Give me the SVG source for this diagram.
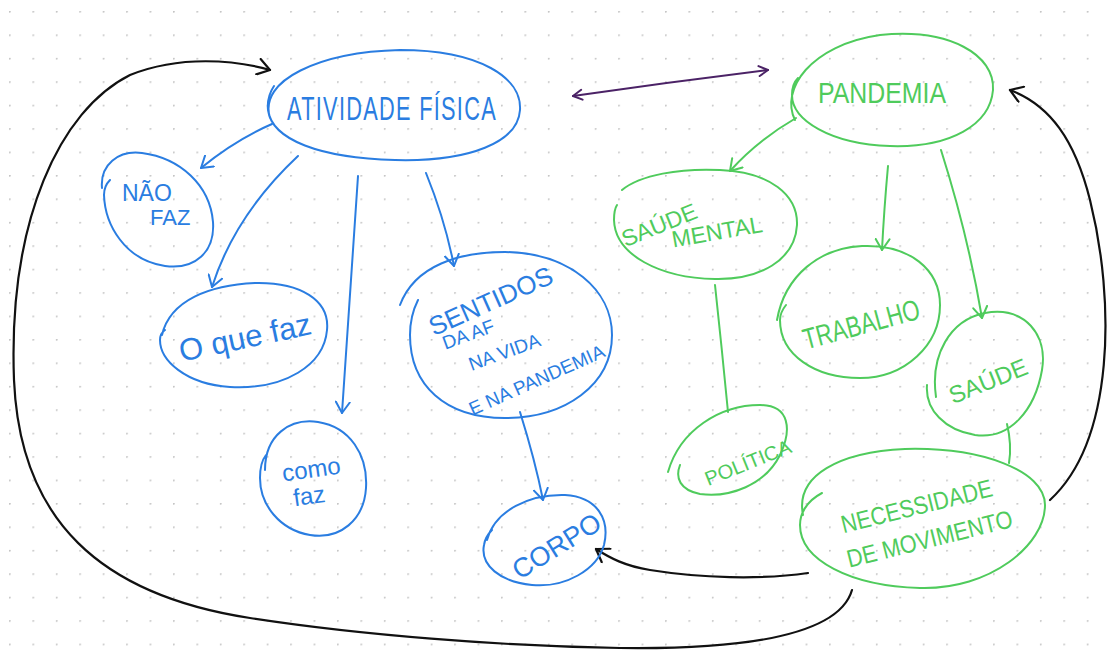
<svg xmlns="http://www.w3.org/2000/svg" width="1110" height="655" viewBox="0 0 1110 655">
  <defs>
    <pattern id="dots" x="9" y="11" width="23.43" height="23.43" patternUnits="userSpaceOnUse">
      <circle cx="0.8" cy="0.8" r="1" fill="#c4c4c4"/>
    </pattern>
    <marker id="arrBlue" viewBox="-12 -8 14 16" markerWidth="14" markerHeight="16" refX="0" refY="0" orient="auto" markerUnits="userSpaceOnUse">
      <path d="M-11,-7 L0,0 L-11,7" fill="none" stroke="#2a7de1" stroke-width="2" stroke-linecap="round" stroke-linejoin="round"/>
    </marker>
    <marker id="arrGreen" viewBox="-12 -8 14 16" markerWidth="14" markerHeight="16" refX="0" refY="0" orient="auto" markerUnits="userSpaceOnUse">
      <path d="M-11,-7 L0,0 L-11,7" fill="none" stroke="#4fcb5c" stroke-width="2" stroke-linecap="round" stroke-linejoin="round"/>
    </marker>
    <marker id="arrBlack" viewBox="-14 -9 16 18" markerWidth="16" markerHeight="18" refX="0" refY="0" orient="auto" markerUnits="userSpaceOnUse">
      <path d="M-12,-8 L0,0 L-12,8" fill="none" stroke="#111" stroke-width="2.2" stroke-linecap="round" stroke-linejoin="round"/>
    </marker>
    <marker id="arrPurpleEnd" viewBox="-12 -8 14 16" markerWidth="14" markerHeight="16" refX="0" refY="0" orient="auto" markerUnits="userSpaceOnUse">
      <path d="M-9,-5 L0,0 L-9,5" fill="none" stroke="#4b2266" stroke-width="2" stroke-linecap="round" stroke-linejoin="round"/>
    </marker>
    <marker id="arrPurpleStart" viewBox="-2 -8 14 16" markerWidth="14" markerHeight="16" refX="0" refY="0" orient="auto" markerUnits="userSpaceOnUse">
      <path d="M9,-5 L0,0 L9,5" fill="none" stroke="#4b2266" stroke-width="2" stroke-linecap="round" stroke-linejoin="round"/>
    </marker>
  </defs>
  <style>
    .blue { fill: none; stroke: #2a7de1; stroke-width: 2; stroke-linecap: round; }
    .green { fill: none; stroke: #4fcb5c; stroke-width: 2; stroke-linecap: round; }
    .black { fill: none; stroke: #111; stroke-width: 2.2; stroke-linecap: round; }
    .purple { fill: none; stroke: #4b2266; stroke-width: 2; stroke-linecap: round; }
    .tb { fill: #2a7de1; font-family: "Liberation Sans", Arial, sans-serif; }
    .tg { fill: #4fcb5c; font-family: "Liberation Sans", Arial, sans-serif; }
  </style>

  <rect width="1110" height="655" fill="#ffffff"/>
  <rect width="1110" height="655" fill="url(#dots)"/>

  <!-- connectors -->
  <g id="connectors">
    <path class="blue" d="M272,124 Q235,140 201,168" marker-end="url(#arrBlue)"/>
    <path class="blue" d="M298,156 Q235,215 212,287" marker-end="url(#arrBlue)"/>
    <path class="blue" d="M358,176 Q350,300 342,413" marker-end="url(#arrBlue)"/>
    <path class="blue" d="M426,173 Q445,220 454,266" marker-end="url(#arrBlue)"/>
    <path class="blue" d="M520,412 Q535,460 543,500" marker-end="url(#arrBlue)"/>

    <path class="green" d="M796,118 Q758,140 730,171" marker-end="url(#arrGreen)"/>
    <path class="green" d="M888,166 Q884,210 882,250" marker-end="url(#arrGreen)"/>
    <path class="green" d="M941,150 Q968,235 982,318" marker-end="url(#arrGreen)"/>
    <path class="green" d="M715,285 Q722,350 728,412"/>
    <path class="green" d="M1007,424 Q1012,445 1009,463"/>

    <path class="purple" d="M573,96 Q670,82 768,70" marker-start="url(#arrPurpleStart)" marker-end="url(#arrPurpleEnd)"/>

    <path class="black" d="M808,573 C760,580 700,578 650,570 C625,566 610,558 596,549" marker-end="url(#arrBlack)"/>
    <path class="black" d="M1050,500 C1115,440 1115,300 1090,200 C1075,140 1050,105 1010,90" marker-end="url(#arrBlack)"/>
    <path class="black" d="M852,590 C842,625 780,650 620,648 C500,646 360,635 250,618 C100,595 20,520 14,380 C8,220 60,110 130,75 C180,55 235,60 270,70" marker-end="url(#arrBlack)"/>
  </g>

  <!-- left cluster (blue) -->
  <g id="atividade-fisica">
    <path class="blue" d="M270,118 C258,80 320,52 400,50 C480,50 522,78 520,110 C518,142 470,162 395,160 C320,158 272,140 268,110 C267,100 270,92 274,86"/>
    <text class="tb" x="287" y="120" font-size="33" letter-spacing="2" textLength="210" lengthAdjust="spacingAndGlyphs">ATIVIDADE FÍSICA</text>
  </g>

  <g id="nao-faz">
    <path class="blue" d="M102,188 C100,165 118,150 142,153 C180,158 210,185 213,222 C215,252 195,270 165,266 C125,260 105,225 104,195 C104,188 106,184 110,180"/>
    <text class="tb" x="122" y="201" font-size="23">NÃO</text>
    <text class="tb" x="150" y="225" font-size="22">FAZ</text>
  </g>

  <g id="o-que-faz">
    <path class="blue" d="M162,335 C170,300 210,285 255,283 C300,282 330,300 327,330 C324,365 285,390 230,387 C185,384 160,360 160,340 C160,335 162,332 165,330"/>
    <text class="tb" x="176" y="350" font-size="31" transform="rotate(-12 235 330)">O que faz</text>
  </g>

  <g id="como-faz">
    <path class="blue" d="M265,470 C265,435 290,418 318,422 C350,427 368,455 366,488 C364,520 340,540 310,535 C280,530 260,505 260,478 C260,468 262,460 266,455"/>
    <text class="tb" x="282" y="478" font-size="24" transform="rotate(-8 308 470)">como</text>
    <text class="tb" x="293" y="504" font-size="24" transform="rotate(-8 310 495)">faz</text>
  </g>

  <g id="sentidos">
    <path class="blue" d="M400,305 C415,265 460,252 505,252 C570,253 612,290 612,335 C612,385 565,418 505,418 C445,418 410,385 410,335 C410,320 413,310 418,300"/>
    <text class="tb" x="420" y="318" font-size="26" transform="rotate(-24 470 295)">SENTIDOS</text>
    <text class="tb" x="440" y="340" font-size="19" transform="rotate(-20 470 330)">DA AF</text>
    <text class="tb" x="466" y="360" font-size="19" transform="rotate(-20 500 350)">NA VIDA</text>
    <text class="tb" x="456" y="392" font-size="19" transform="rotate(-24 520 365)">E NA PANDEMIA</text>
  </g>

  <g id="corpo">
    <path class="blue" d="M487,540 C495,510 530,494 565,495 C598,497 610,520 604,545 C597,570 565,588 532,585 C500,582 480,565 484,545 C485,538 488,534 492,530"/>
    <text class="tb" x="504" y="564" font-size="27" transform="rotate(-32 540 545)">CORPO</text>
  </g>

  <!-- right cluster (green) -->
  <g id="pandemia">
    <path class="green" d="M795,120 C780,90 810,45 880,35 C950,28 995,55 993,90 C990,125 950,148 890,146 C830,144 792,120 792,95 C792,88 794,82 798,78"/>
    <text class="tg" x="818" y="103" font-size="30" textLength="128" lengthAdjust="spacingAndGlyphs">PANDEMIA</text>
  </g>

  <g id="saude-mental">
    <path class="green" d="M622,190 C640,175 680,168 720,170 C770,172 798,195 797,225 C795,260 760,280 715,279 C660,278 615,255 614,220 C614,212 615,208 617,205"/>
    <text class="tg" x="617" y="236" font-size="23" transform="rotate(-22 650 220)">SAÚDE</text>
    <text class="tg" x="670" y="240" font-size="23" transform="rotate(-10 715 225)">MENTAL</text>
  </g>

  <g id="trabalho">
    <path class="green" d="M777,320 C785,275 820,248 862,246 C910,244 940,270 940,305 C940,345 905,378 860,378 C815,378 780,355 780,320 C780,315 782,310 786,305"/>
    <text class="tg" x="796" y="336" font-size="29" textLength="120" lengthAdjust="spacingAndGlyphs" transform="rotate(-15 852 305)">TRABALHO</text>
  </g>

  <g id="saude">
    <path class="green" d="M936,397 C930,355 950,320 985,313 C1025,306 1048,335 1042,370 C1035,410 1010,440 975,435 C945,430 925,410 927,385"/>
    <text class="tg" x="944" y="392" font-size="24" transform="rotate(-22 980 375)">SAÚDE</text>
  </g>

  <g id="politica">
    <path class="green" d="M668,472 C680,430 720,405 760,405 C790,405 792,430 780,455 C765,485 730,498 700,494 C680,490 675,478 680,465"/>
    <text class="tg" x="699" y="472" font-size="20" transform="rotate(-22 740 455)">POLÍTICA</text>
  </g>

  <g id="necessidade">
    <path class="green" d="M803,515 C795,475 840,452 905,449 C980,447 1045,470 1045,505 C1045,545 990,590 920,588 C850,586 800,560 800,525 C800,515 805,502 822,493"/>
    <text class="tg" x="835" y="516" font-size="25" textLength="155" lengthAdjust="spacingAndGlyphs" transform="rotate(-14 910 490)">NECESSIDADE</text>
    <text class="tg" x="840" y="548" font-size="25" textLength="170" lengthAdjust="spacingAndGlyphs" transform="rotate(-14 925 520)">DE MOVIMENTO</text>
  </g>
</svg>
